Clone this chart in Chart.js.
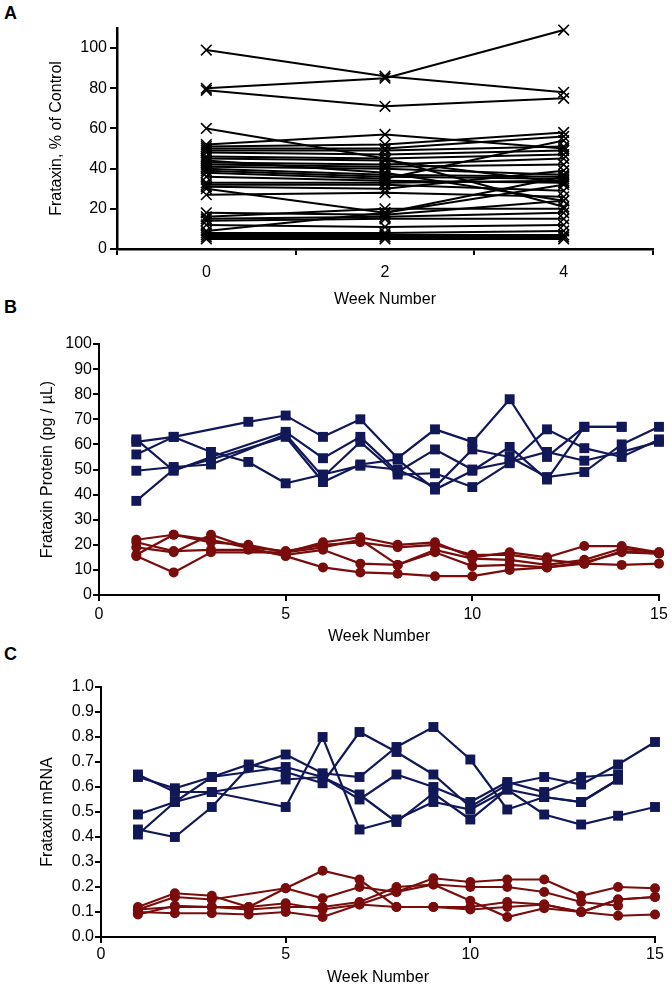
<!DOCTYPE html>
<html lang="en">
  <head>
    <meta charset="UTF-8" />
    <script src="https://cdn.jsdelivr.net/npm/chart.js@4.4.1/dist/chart.umd.min.js"></script>
    <title>Frataxin panels</title>
    <style>
      body { margin: 0; background: #fff; }
      #page { position: relative; width: 672px; height: 988px; overflow: hidden; }
      canvas { position: absolute; left: 0; }
      .panel-letter { position: absolute; left: 4px; font: bold 18px "Liberation Sans", Arial, sans-serif; }
    </style>
  </head>
  <body>
    <div id="page">
      <div class="panel-letter" style="top: 3px">A</div>
      <div class="panel-letter" style="top: 297px">B</div>
      <div class="panel-letter" style="top: 644px">C</div>
      <canvas id="chartA" width="672" height="312" style="top: 0px"></canvas>
      <canvas id="chartB" width="672" height="333" style="top: 312px"></canvas>
      <canvas id="chartC" width="672" height="343" style="top: 645px"></canvas>
    </div>

  <script>
    // panel A - one line per subject, read at weeks 0, 2 and 4
    const weeksA = ['0', '2', '4'];
    const week0 = [99, 80, 79, 60, 52, 51, 50, 49, 48, 46, 45, 44, 43, 42, 41, 40, 39, 38, 36, 33, 32, 30, 27, 31, 18, 16, 15, 14, 12, 9, 8, 7, 6, 5];
    const week2 = [86, 85, 71, 45, 57, 52, 50, 49, 47, 45, 44, 38, 42, 41, 40, 37, 36, 35, 34, 33, 32, 18, 28, 30, 17, 20, 16, 15, 11, 18, 8, 7, 6, 5];
    const week4 = [78, 109, 75, 21, 50, 58, 56, 51, 49, 47, 33, 24, 45, 42, 37, 36, 35, 54, 33, 34, 29, 32, 26, 39, 24, 20, 18, 15, 12, 36, 9, 7, 6, 5];

    // panels B and C - weeks 1..15, null = not measured that week
    const weeksBC = [1, 2, 3, 4, 5, 6, 7, 8, 9, 10, 11, 12, 13, 14, 15];

    const proteinSquares = [
      [61, 63, null, 69, 71.5, 63, 70, 54.5, 66, 61, 78, 55, 67, 67, null],
      [56, 63, 57, 53, 44.5, 48, 51.5, 50, 43, 58, 55, 47, 49, 60, 67],
      [62, 49.5, 55, null, 65, 54.5, 63, 49, 58, 50, 53, 57, 53.5, 57, 61],
      [49.5, 51, 52, null, 64, 47, 61, 48, 48.5, 43, 52.5, 66, 58.5, 55, 62],
      [37.5, 50, 54, null, 63, 45, 52, 54, 42, 49.5, 59, 46, 67, 67, null]
    ];
    const proteinCircles = [
      [22, 24, 21, 20, 17, 21, 23, 20, 21, 15, 17, 15, 19.5, 19.5, 17],
      [19, 17, 24, 19, 17.5, 20, 21, 19, 20, 16, 16, 14, 12.5, 17.5, 16.5],
      [21, 17.5, 18, 18, 16, 18, 12.5, 12, 18, 14.5, 14, 12, 14, 18.5, 17],
      [16, 24, 22, null, 15.5, 11, 9, 8.5, 7.5, 7.5, 10, 11, 12.5, 12, 12.5],
      [15.5, 9, 17, null, 17, 19, 22, 12, 17, 11.5, 12, 11, 13, 17, 16.5]
    ];

    const mrnaSquares = [
      [0.65, 0.58, 0.58, null, 0.52, 0.80, 0.43, 0.47, 0.54, 0.51, 0.59, 0.49, 0.45, 0.485, 0.52],
      [0.64, 0.595, 0.64, 0.69, 0.66, 0.615, 0.82, 0.74, 0.65, 0.52, 0.61, 0.64, 0.61, 0.69, 0.78],
      [0.49, 0.54, 0.64, null, 0.68, 0.64, 0.55, 0.65, 0.60, 0.54, 0.62, 0.58, 0.64, 0.65, null],
      [0.43, 0.40, 0.52, 0.68, 0.73, 0.655, 0.64, 0.76, 0.84, 0.71, 0.51, 0.56, 0.54, 0.63, null],
      [0.41, 0.54, 0.58, null, 0.63, 0.64, 0.57, 0.46, 0.575, 0.47, 0.59, 0.56, 0.54, 0.63, null]
    ];
    const mrnaCircles = [
      [0.12, 0.175, 0.165, 0.12, 0.195, 0.265, 0.23, 0.12, 0.12, 0.12, 0.14, 0.13, 0.10, 0.15, 0.16],
      [0.11, 0.16, 0.15, null, 0.195, 0.155, 0.20, 0.18, 0.235, 0.22, 0.23, 0.23, 0.165, 0.20, 0.195],
      [0.09, 0.125, 0.12, 0.11, 0.12, 0.12, 0.14, 0.20, 0.21, 0.20, 0.20, 0.18, 0.14, 0.125, null],
      [0.10, 0.095, 0.095, 0.09, 0.10, 0.08, 0.13, 0.18, 0.21, 0.145, 0.08, 0.115, 0.10, 0.085, 0.09],
      [0.11, 0.12, 0.12, 0.12, 0.135, 0.11, 0.13, 0.12, 0.12, 0.11, 0.12, 0.13, 0.10, 0.15, 0.16]
    ];

    const FONT = '"Liberation Sans", Arial, sans-serif';
    const NAVY = '#111858';
    const DARKRED = '#7a0c0c';

    Chart.defaults.font.family = FONT;
    Chart.defaults.color = '#000';

    function toPoints(values) {
      return values.map(function (v, i) { return { x: weeksBC[i], y: v }; });
    }

    function groupDatasets(rows, color, style, radius) {
      return rows.map(function (row) {
        return {
          data: toPoints(row),
          borderColor: color,
          backgroundColor: color,
          borderWidth: 2.2,
          pointStyle: style,
          pointRadius: radius,
          pointBorderWidth: 0,
          spanGaps: true,
          clip: false
        };
      });
    }

    const common = {
      responsive: false,
      animation: false,
      events: [],
      plugins: { legend: { display: false }, tooltip: { enabled: false } }
    };

    // ---- A ----
    const subjects = week0.map(function (v, i) { return [v, week2[i], week4[i]]; });

    new Chart(document.getElementById('chartA'), {
      type: 'line',
      data: {
        labels: weeksA,
        datasets: subjects.map(function (s) {
          return {
            data: s,
            borderColor: '#000',
            backgroundColor: '#000',
            borderWidth: 2,
            pointStyle: 'crossRot',
            pointRadius: 7.5,
            pointBorderWidth: 1.6,
            clip: false
          };
        })
      },
      options: Object.assign({}, common, {
        layout: { padding: { top: 28, right: 19, left: 0, bottom: 0 } },
        scales: {
          x: {
            type: 'category',
            offset: true,
            grid: { offset: true, drawOnChartArea: false, tickLength: 6, color: '#000', lineWidth: 2 },
            border: { color: '#000', width: 2.5 },
            ticks: { font: { size: 16 }, padding: 8 },
            title: { display: true, text: 'Week Number', font: { size: 16, lineHeight: 1 }, padding: { bottom: 4, top: 0 } },
            afterFit: function (s) { s.height = 63; }
          },
          y: {
            min: 0,
            max: 110,
            ticks: { stepSize: 20, font: { size: 16 }, padding: 3 },
            afterBuildTicks: function (s) { s.ticks = s.ticks.filter(function (t) { return t.value <= 100; }); },
            grid: { drawOnChartArea: false, tickLength: 7, color: '#000', lineWidth: 2 },
            border: { color: '#000', width: 2.5 },
            title: { display: true, text: 'Frataxin, % of Control', font: { size: 16, lineHeight: 1 }, padding: { top: 49, bottom: 0 } },
            afterFit: function (s) { s.width = 117; }
          }
        }
      })
    });

    // ---- B and C share the same layout ----
    function weekPanel(id, squares, circles, yOpts) {
      new Chart(document.getElementById(id), {
        type: 'line',
        data: {
          datasets: groupDatasets(squares, NAVY, 'rect', 7).concat(groupDatasets(circles, DARKRED, 'circle', 5))
        },
        options: Object.assign({}, common, {
          layout: { padding: yOpts.padding },
          scales: {
            x: {
              type: 'linear',
              min: 0,
              max: 15,
              ticks: { stepSize: 5, font: { size: 16 }, padding: yOpts.xTickPad },
              grid: { drawOnChartArea: false, tickLength: 6, color: '#000', lineWidth: 2 },
              border: { color: '#000', width: 2 },
              title: { display: true, text: 'Week Number', font: { size: 16, lineHeight: 1 }, padding: { bottom: yOpts.xTitlePad, top: 0 } },
              afterFit: function (s) { s.height = yOpts.xHeight; }
            },
            y: {
              min: 0,
              max: yOpts.max,
              ticks: { stepSize: yOpts.step, font: { size: 16 }, padding: 1, callback: yOpts.format },
              grid: { drawOnChartArea: false, tickLength: 6, color: '#000', lineWidth: 2 },
              border: { color: '#000', width: 2 },
              title: { display: true, text: yOpts.title, font: { size: 16, lineHeight: 1 }, padding: { top: 40, bottom: 0 } },
              afterFit: function (s) { s.width = yOpts.yWidth; }
            }
          }
        })
      });
    }

    weekPanel('chartB', proteinSquares, proteinCircles, {
      padding: { top: 32, right: 13, left: 0, bottom: 0 },
      xHeight: 50, xTickPad: 4, xTitlePad: 0, yWidth: 99,
      max: 100, step: 10, title: 'Frataxin Protein (pg / \u00b5L)',
      format: function (v) { return v; }
    });

    weekPanel('chartC', mrnaSquares, mrnaCircles, {
      padding: { top: 42, right: 17, left: 0, bottom: 0 },
      xHeight: 51, xTickPad: 2, xTitlePad: 2, yWidth: 101,
      max: 1, step: 0.1, title: 'Frataxin mRNA',
      format: function (v) { return Number(v).toFixed(1); }
    });
  </script>
  </body>
</html>
